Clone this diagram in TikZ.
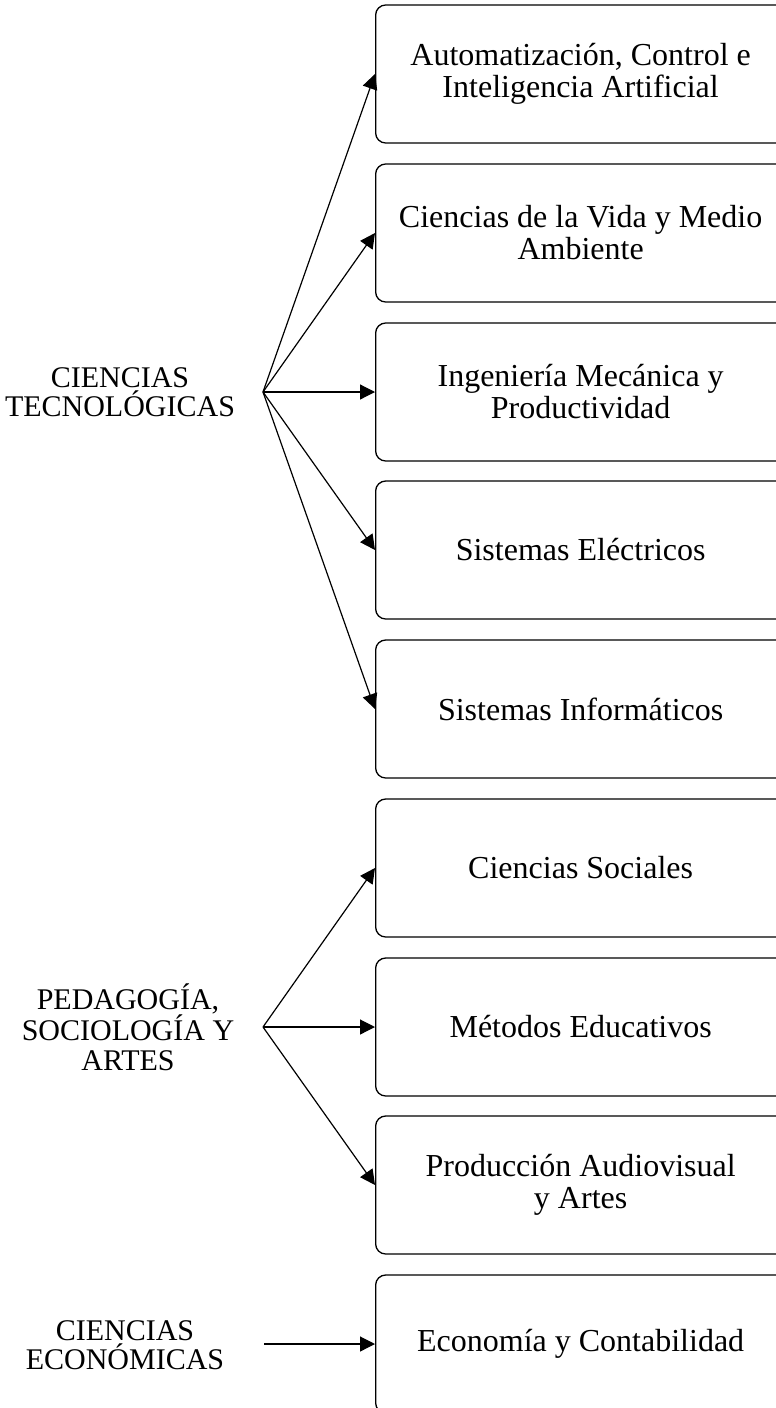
\documentclass[tikz,border=0pt]{standalone}
\usepackage{fontspec}
\setmainfont{Liberation Serif}
\usetikzlibrary{arrows.meta,positioning}

\begin{document}
\begin{tikzpicture}[x=1pt,y=-1pt,
    area/.style={align=center,font=\fontsize{30}{29.5}\selectfont},
    linea/.style={draw,rounded corners=10pt,line width=1.3pt,minimum width=410pt,minimum height=138pt,anchor=west,align=center,font=\fontsize{32}{32}\selectfont},
    flecha/.style={line width=1.2pt,-{Triangle[length=15pt,width=15pt]}}]
        \useasboundingbox (0,0) rectangle (776,1408);
        \clip (0,0) rectangle (776,1408);
        % lineas de investigacion
        \node[linea] (aut) at (375,74) {Automatización, Control e\\Inteligencia Artificial};
        \node[linea] (vida) at (375,233) {Ciencias de la Vida y Medio\\Ambiente};
        \node[linea] (mec) at (375,392) {Ingeniería Mecánica y\\Productividad};
        \node[linea] (elec) at (375,550) {Sistemas Eléctricos};
        \node[linea] (info) at (375,709) {Sistemas Informáticos};
        \node[linea] (soc) at (375,868) {Ciencias Sociales};
        \node[linea] (edu) at (375,1027) {Métodos Educativos};
        \node[linea] (prod) at (375,1185) {Producción Audiovisual\\y Artes};
        \node[linea] (eco) at (375,1344) {Economía y Contabilidad};
        % areas
        \node[area] (tec) at (120,392) {CIENCIAS\\TECNOLÓGICAS};
        \node[area] (ped) at (128,1027) {PEDAGOGÍA,\\SOCIOLOGÍA Y\\ARTES};
        \node[area] (econ) at (125,1345) {CIENCIAS\\ECONÓMICAS};
        \coordinate (tecHub) at (263,392);
        \coordinate (pedHub) at (263,1027);
        \coordinate (ecoHub) at (264,1344);
        \draw[flecha] (tecHub) -- (aut.west);
        \draw[flecha] (tecHub) -- (vida.west);
        \draw[flecha] (tecHub) -- (mec.west);
        \draw[flecha] (tecHub) -- (elec.west);
        \draw[flecha] (tecHub) -- (info.west);
        \draw[flecha] (pedHub) -- (soc.west);
        \draw[flecha] (pedHub) -- (edu.west);
        \draw[flecha] (pedHub) -- (prod.west);
        \draw[flecha] (ecoHub) -- (eco.west);
    \end{tikzpicture}
\end{document}
